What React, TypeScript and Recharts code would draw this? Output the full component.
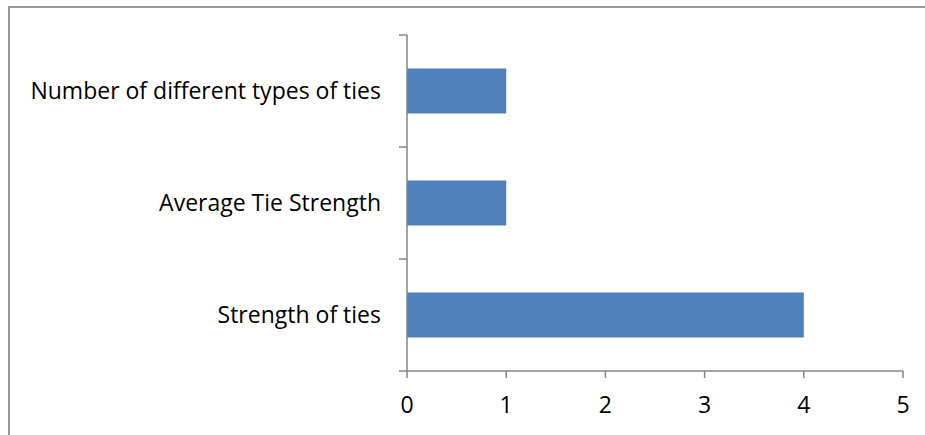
import React from "react";
import { BarChart, Bar, XAxis, YAxis } from "recharts";

const categories = ["Number of different types of ties", "Average Tie Strength", "Strength of ties"];
const values = [1, 1, 4];
const xTicks = [0, 1, 2, 3, 4, 5];

const data = categories.map((name, i) => ({ name, value: values[i] }));

const AXIS = "#868686";
const FONT = "'Open Sans', sans-serif";
const FS = 23;
const Y_TICK_SIZE = 8;
const Y_TICK_MARGIN = 18;

const YTick = (props: any) => {
  const { x, y, payload, index, visibleTicksCount } = props;
  const axisX = x + Y_TICK_SIZE + Y_TICK_MARGIN;
  const off = payload.offset || 0;
  const isLast = index === (visibleTicksCount ?? categories.length) - 1;
  return (
    <g>
      <line x1={axisX - Y_TICK_SIZE} x2={axisX} y1={y - off} y2={y - off} stroke={AXIS} strokeWidth={1.5} />
      {isLast && (
        <line x1={axisX - Y_TICK_SIZE} x2={axisX} y1={y + off} y2={y + off} stroke={AXIS} strokeWidth={1.5} />
      )}
      <text x={x} y={y} dy="0.355em" textAnchor="end" fill="#000" fontSize={FS} fontFamily={FONT}>
        {payload.value}
      </text>
    </g>
  );
};

export default function App() {
  return (
    <div
      style={{
        position: "fixed",
        left: 8,
        top: 6,
        width: 915,
        height: 427,
        borderLeft: "2px solid #999",
        borderTop: "2px solid #999",
        background: "#fff",
      }}
    >
      <BarChart
        width={915}
        height={427}
        data={data}
        layout="vertical"
        margin={{ top: 27, right: 22, left: 0, bottom: 0 }}
        barCategoryGap="30%"
      >
        <XAxis
          type="number"
          domain={[0, 5]}
          ticks={xTicks}
          height={64}
          stroke={AXIS}
          strokeWidth={1.5}
          tickSize={7}
          tickMargin={19}
          tick={{ fill: "#000", fontSize: FS, fontFamily: FONT }}
          axisLine={{ stroke: AXIS, strokeWidth: 1.5 }}
          tickLine={{ stroke: AXIS, strokeWidth: 1.5 }}
        />
        <YAxis
          type="category"
          dataKey="name"
          width={397}
          tickSize={Y_TICK_SIZE}
          tickMargin={Y_TICK_MARGIN}
          tickLine={false}
          axisLine={{ stroke: AXIS, strokeWidth: 1.5 }}
          tick={<YTick />}
          interval={0}
        />
        <Bar dataKey="value" fill="#4F81BD" isAnimationActive={false} />
      </BarChart>
    </div>
  );
}
